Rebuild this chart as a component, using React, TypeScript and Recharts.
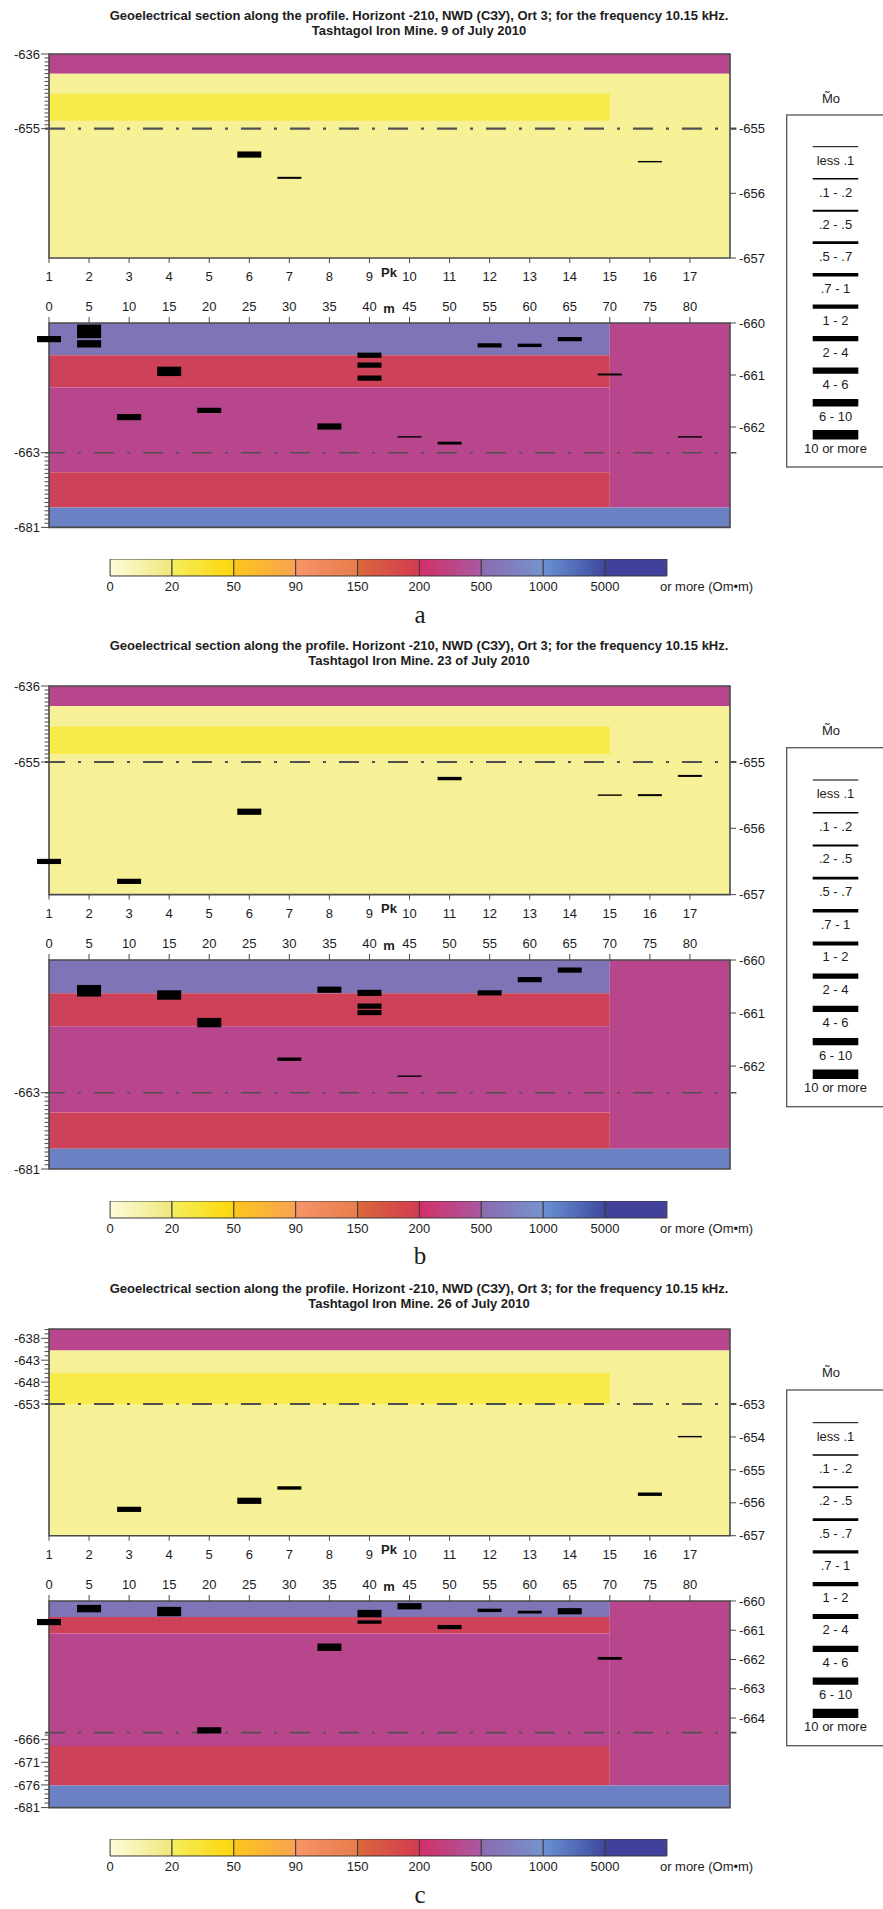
import React from "react";
import {
  ComposedChart,
  BarChart,
  Bar,
  XAxis,
  YAxis,
  ReferenceArea,
  ReferenceLine,
  Scatter,
} from "recharts";

const FONT = '"Liberation Sans", Arial, Helvetica, sans-serif';
const INK = "#1c1c1c";
const FRAME = "#4a4a4a";

const PLOT_LEFT = 49;
const PLOT_W = 681;
const RIGHT_AX = 60;
const X_AX_H = 34;
const PAD = 10;
const MARK_W = 24;
const X_MAX = 85;

// distance along the profile (m) and picket numbers under it
const metres = [0, 5, 10, 15, 20, 25, 30, 35, 40, 45, 50, 55, 60, 65, 70, 75, 80];
const pickets = [1, 2, 3, 4, 5, 6, 7, 8, 9, 10, 11, 12, 13, 14, 15, 16, 17];

// thickness classes of the anomalies (legend)
const thicknessClasses = ["less .1", ".1 - .2", ".2 - .5", ".5 - .7", ".7 - 1", "1 - 2", "2 - 4", "4 - 6", "6 - 10", "10 or more"];
const classStroke = [1, 1.4, 2, 2.8, 3.4, 4.2, 5.2, 6.2, 7.4, 9.4];

// resistivity colour scale
const scaleTicks = ["0", "20", "50", "90", "150", "200", "500", "1000", "5000", "or more (Om\u2022m)"];
const scaleColours: [string, string][] = [
  ["#fefbdc", "#eee87a"],
  ["#f5ee5c", "#fcd60a"],
  ["#fdc61c", "#f7a352"],
  ["#f69469", "#e87d4c"],
  ["#d9683a", "#d43a52"],
  ["#d22f66", "#a95aa2"],
  ["#8c6bb0", "#7593cd"],
  ["#6a93d3", "#3f48a0"],
  ["#41409b", "#41409b"],
];

const BAND_FILL: Record<string, string> = {
  pale: "#f6f197",
  yellow: "#f8ea4b",
  magenta: "#b8468c",
  red: "#cd4159",
  violet: "#7d75b6",
  blue: "#6a82c3",
};

const TITLE = "Geoelectrical section along the profile. Horizont -210, NWD (\u0421\u0417\u0423), Ort 3; for the frequency 10.15 kHz.";
const dates = ["9 of July 2010", "23 of July 2010", "26 of July 2010"];

// layers: [x1, x2, top, bottom, layer] in left-axis depth units
type Band = [number, number, number, number, string];
const upperBandsAB: Band[] = [
  [0, 85, -630, -641, "magenta"],
  [0, 85, -641, -700, "pale"],
  [0, 70, -646.1, -653, "yellow"],
];
const upperBandsC: Band[] = [
  [0, 85, -630, -640.8, "magenta"],
  [0, 85, -640.8, -700, "pale"],
  [0, 70, -646, -653, "yellow"],
];
const lowerBandsAB: Band[] = [
  [0, 70, -620, -639.55, "violet"],
  [0, 70, -639.55, -647.3, "red"],
  [0, 70, -647.3, -667.7, "magenta"],
  [0, 70, -667.7, -676.2, "red"],
  [70, 85, -620, -676.2, "magenta"],
  [0, 85, -676.2, -700, "blue"],
];
const lowerBandsC: Band[] = [
  [0, 70, -620, -638.95, "violet"],
  [0, 70, -638.95, -642.6, "red"],
  [0, 70, -642.6, -667.4, "magenta"],
  [0, 70, -667.4, -676.1, "red"],
  [70, 85, -620, -676.1, "magenta"],
  [0, 85, -676.1, -700, "blue"],
];

// anomalies: [metre, depth (right axis), thickness class]
type Mark = [number, number, number];
const aUpperMarks: Mark[] = [
  [25, -655.4, 7], [30, -655.76, 2], [75, -655.51, 1],
];
const aLowerMarks: Mark[] = [
  [0, -660.31, 7], [5, -660.12, 9], [5, -660.22, 8], [5, -660.4, 8],
  [10, -661.81, 7], [15, -660.93, 9], [20, -661.68, 6], [35, -661.99, 7],
  [40, -660.62, 6], [40, -660.81, 6], [40, -661.06, 6], [45, -662.19, 1],
  [50, -662.31, 3], [55, -660.43, 5], [60, -660.43, 4], [65, -660.31, 5],
  [70, -660.99, 2], [80, -662.19, 1],
];
const bUpperMarks: Mark[] = [
  [0, -656.5, 6], [10, -656.8, 6], [25, -655.75, 7], [50, -655.25, 4],
  [70, -655.5, 1], [75, -655.5, 2], [80, -655.21, 2],
];
const bLowerMarks: Mark[] = [
  [5, -660.54, 8], [5, -660.62, 8], [15, -660.66, 9], [20, -661.18, 9],
  [30, -661.87, 4], [35, -660.56, 7], [40, -660.62, 7], [40, -660.87, 6],
  [40, -660.99, 6], [45, -662.19, 1], [55, -660.62, 6], [60, -660.37, 6],
  [65, -660.19, 6],
];
const cUpperMarks: Mark[] = [
  [10, -656.2, 6], [25, -655.94, 7], [30, -655.55, 4], [75, -655.74, 4], [80, -653.99, 1],
];
const cLowerMarks: Mark[] = [
  [0, -660.72, 7], [5, -660.26, 8], [15, -660.36, 9], [20, -664.42, 7],
  [35, -661.58, 8], [40, -660.43, 8], [40, -660.72, 4], [45, -660.18, 7],
  [50, -660.89, 5], [55, -660.32, 4], [60, -660.38, 3], [65, -660.35, 7],
  [70, -661.96, 3],
];

const range = (from: number, to: number) => {
  const out: number[] = [];
  for (let v = from; v >= to; v--) out.push(v);
  return out;
};

const toPoints = (marks: Mark[]) => marks.map(([m, d, c]) => ({ m, d, c }));

const panels = [
  {
    key: "a",
    date: dates[0],
    titleY: [15, 30],
    letterY: 623,
    barTop: 559.3,
    legend: { head: 98, box: 115, first: 146.7, step: 32, bottom: 467 },
    upper: {
      top: 54.3, h: 204, dash: -655, bands: upperBandsAB, marks: aUpperMarks,
      L: { domain: [-687.9, -636], major: [-636, -655], minor: range(-636, -655) },
      R: { domain: [-657, -653.845], ticks: [-655, -656, -657] },
    },
    lower: {
      top: 323.3, h: 204.4, dash: -663, bands: lowerBandsAB, marks: aLowerMarks,
      L: { domain: [-681, -631.75], major: [-663, -681], minor: range(-663, -681) },
      R: { domain: [-663.93, -660], ticks: [-660, -661, -662] },
    },
  },
  {
    key: "b",
    date: dates[1],
    titleY: [645.7, 660.7],
    letterY: 1264.3,
    barTop: 1200.6,
    legend: { head: 730, box: 747.7, first: 780, step: 32.7, bottom: 1106.7 },
    upper: {
      top: 685.7, h: 208.6, dash: -655, bands: upperBandsAB, marks: bUpperMarks,
      L: { domain: [-688.15, -636], major: [-636, -655], minor: range(-636, -655) },
      R: { domain: [-657, -653.854], ticks: [-655, -656, -657] },
    },
    lower: {
      top: 960, h: 209, dash: -663, bands: lowerBandsAB, marks: bLowerMarks,
      L: { domain: [-681, -631.7], major: [-663, -681], minor: range(-663, -681) },
      R: { domain: [-663.94, -660], ticks: [-660, -661, -662] },
    },
  },
  {
    key: "c",
    date: dates[2],
    titleY: [1288.3, 1303.3],
    letterY: 1902.6,
    barTop: 1839.3,
    legend: { head: 1372.7, box: 1390, first: 1422.7, step: 32.3, bottom: 1745.7 },
    upper: {
      top: 1329, h: 206.7, dash: -653, bands: upperBandsC, marks: cUpperMarks,
      L: { domain: [-683.07, -635.88], major: [-638, -643, -648, -653], minor: range(-636, -653) },
      R: { domain: [-657, -650.72], ticks: [-653, -654, -655, -656, -657] },
    },
    lower: {
      top: 1600.7, h: 206.6, dash: -664.46, bands: lowerBandsC, marks: cLowerMarks,
      L: { domain: [-681, -635.42], major: [-666, -671, -676, -681], minor: range(-665, -681) },
      R: { domain: [-667.06, -660], ticks: [-660, -661, -662, -663, -664] },
    },
  },
];

const txt = { fontFamily: FONT, fontSize: 13, fill: INK };

const LeftTick = (props: any) => {
  const { x, y, payload, major } = props;
  const isMajor = major.includes(payload.value);
  return (
    <g>
      <line x1={x - (isMajor ? 8 : 4.5)} x2={x} y1={y} y2={y} stroke={FRAME} strokeWidth={1} />
      {isMajor && (
        <text x={x - 9} y={y} dy="0.36em" textAnchor="end" {...txt}>
          {payload.value}
        </text>
      )}
    </g>
  );
};

const RightTick = (props: any) => {
  const { x, y, payload } = props;
  return (
    <g>
      <line x1={x} x2={x + 6} y1={y} y2={y} stroke={FRAME} strokeWidth={1} />
      <text x={x + 9} y={y} dy="0.36em" textAnchor="start" {...txt}>
        {payload.value}
      </text>
    </g>
  );
};

const PkTick = (props: any) => {
  const { x, y, payload } = props;
  const i = metres.indexOf(payload.value);
  return (
    <g>
      <line x1={x} x2={x} y1={y} y2={y + 5} stroke={FRAME} strokeWidth={1} />
      <text x={x} y={y + 18.4} dy="0.36em" textAnchor="middle" {...txt}>
        {pickets[i]}
      </text>
      {payload.value === 40 && (
        <text x={x + 19.5} y={y + 14} dy="0.36em" textAnchor="middle" {...txt} fontWeight="bold">
          Pk
        </text>
      )}
    </g>
  );
};

const MTick = (props: any) => {
  const { x, y, payload } = props;
  return (
    <g>
      <line x1={x} x2={x} y1={y - 6} y2={y} stroke={FRAME} strokeWidth={1} />
      <text x={x} y={y - 16.6} dy="0.36em" textAnchor="middle" {...txt}>
        {payload.value}
      </text>
      {payload.value === 40 && (
        <text x={x + 19.5} y={y - 14.3} dy="0.36em" textAnchor="middle" {...txt} fontWeight="bold">
          m
        </text>
      )}
    </g>
  );
};

const MarkShape = (props: any) => {
  const t = classStroke[props.payload.c];
  return <rect x={props.cx - MARK_W / 2} y={props.cy - t / 2} width={MARK_W} height={t} fill="#000" />;
};

const Section = ({ cfg, upper }: { cfg: any; upper: boolean }) => {
  const [lo, hi] = cfg.L.domain;
  return (
    <div style={{ position: "absolute", left: 0, top: cfg.top - (upper ? PAD : X_AX_H) }}>
      <ComposedChart
        width={PLOT_LEFT + PLOT_W + RIGHT_AX}
        height={cfg.h + X_AX_H + PAD}
        margin={{ top: upper ? PAD : 0, bottom: upper ? 0 : PAD, left: 0, right: 0 }}
      >
        <XAxis
          type="number"
          dataKey="m"
          domain={[0, X_MAX]}
          ticks={metres}
          interval={0}
          orientation={upper ? "bottom" : "top"}
          height={X_AX_H}
          tickSize={0}
          tickMargin={0}
          axisLine={false}
          tickLine={false}
          tick={upper ? PkTick : MTick}
        />
        <YAxis
          yAxisId="L"
          orientation="left"
          type="number"
          width={PLOT_LEFT}
          domain={cfg.L.domain}
          allowDataOverflow
          ticks={cfg.L.minor}
          interval={0}
          tickSize={0}
          tickMargin={0}
          axisLine={false}
          tickLine={false}
          tick={(p: any) => <LeftTick {...p} major={cfg.L.major} />}
        />
        <YAxis
          yAxisId="R"
          orientation="right"
          type="number"
          dataKey="d"
          width={RIGHT_AX}
          domain={cfg.R.domain}
          ticks={cfg.R.ticks}
          interval={0}
          tickSize={0}
          tickMargin={0}
          axisLine={false}
          tickLine={false}
          tick={RightTick}
        />
        {cfg.bands.map(([x1, x2, t, b, layer]: Band, i: number) => (
          <ReferenceArea
            key={i}
            yAxisId="L"
            x1={x1}
            x2={x2}
            y1={b}
            y2={t}
            fill={BAND_FILL[layer]}
            fillOpacity={1}
            stroke="none"
            ifOverflow="hidden"
          />
        ))}
        <ReferenceArea
          yAxisId="L"
          x1={0}
          x2={X_MAX}
          y1={lo}
          y2={hi}
          fill="none"
          stroke={FRAME}
          strokeWidth={1.6}
          ifOverflow="visible"
        />
        <ReferenceLine
          yAxisId="L"
          segment={[
            { x: -0.5, y: cfg.dash },
            { x: X_MAX + 0.8, y: cfg.dash },
          ]}
          stroke="#505050"
          strokeWidth={upper ? 2.2 : 1.6}
          strokeDasharray="20 13 3 13"
          ifOverflow="visible"
        />
        <Scatter
          yAxisId="R"
          data={toPoints(cfg.marks)}
          isAnimationActive={false}
          shape={MarkShape}
        />
      </ComposedChart>
    </div>
  );
};

const BAR_LEFT = 110;
const BAR_W = 557;
const BAR_H = 16.7;
const BAR_PAD = 12;

const ScaleTick = (props: any) => {
  const { x, y, payload } = props;
  const last = payload.value === scaleTicks.length - 1;
  return (
    <text x={last ? x - 7 : x} y={y + 10.4} dy="0.36em" textAnchor={last ? "start" : "middle"} {...txt}>
      {scaleTicks[payload.value]}
    </text>
  );
};

const ColourScale = ({ top, id }: { top: number; id: string }) => {
  const row = [Object.fromEntries(scaleColours.map((_, i) => [`s${i}`, 1]))];
  return (
    <div style={{ position: "absolute", left: BAR_LEFT - BAR_PAD, top }}>
      <BarChart
        layout="vertical"
        width={BAR_W + 120 + BAR_PAD}
        height={BAR_H + 24}
        data={row}
        margin={{ top: 0, right: 120, bottom: 0, left: BAR_PAD }}
        barCategoryGap={0}
      >
        <defs>
          {scaleColours.map(([from, to], i) => (
            <linearGradient key={i} id={`${id}${i}`} x1="0" y1="0" x2="1" y2="0">
              <stop offset="0%" stopColor={from} />
              <stop offset="100%" stopColor={to} />
            </linearGradient>
          ))}
        </defs>
        <XAxis
          type="number"
          domain={[0, scaleColours.length]}
          ticks={scaleTicks.map((_, i) => i)}
          interval={0}
          height={24}
          tickSize={0}
          tickMargin={0}
          axisLine={false}
          tickLine={false}
          tick={ScaleTick}
        />
        <YAxis type="category" hide width={0} />
        {scaleColours.map((_, i) => (
          <Bar
            key={i}
            dataKey={`s${i}`}
            stackId="s"
            fill={`url(#${id}${i})`}
            stroke="#3a3a3a"
            strokeWidth={1}
            isAnimationActive={false}
          />
        ))}
      </BarChart>
    </div>
  );
};

const LEG_LEFT = 786.7;
const LEG_LINE_X = [812.7, 858.3];
const TITLE_X = 419;
const LETTER_X = 420;

export default function App() {
  return (
    <div
      style={{
        position: "absolute",
        left: 0,
        top: 0,
        width: 883,
        height: 1909,
        overflow: "hidden",
        background: "#fff",
      }}
    >
      <svg width={883} height={1909} style={{ position: "absolute", left: 0, top: 0 }}>
        {panels.map((p) => (
          <g key={p.key}>
            <text x={TITLE_X} y={p.titleY[0]} dy="0.36em" textAnchor="middle" fontFamily={FONT} fontSize={13} fontWeight="bold" fill={INK}>
              {TITLE}
            </text>
            <text x={TITLE_X} y={p.titleY[1]} dy="0.36em" textAnchor="middle" fontFamily={FONT} fontSize={13} fontWeight="bold" fill={INK}>
              {`Tashtagol Iron Mine. ${p.date}`}
            </text>
            <text x={LETTER_X} y={p.letterY} textAnchor="middle" fontFamily='"Liberation Serif", "DejaVu Serif", serif' fontSize={25} fill={INK}>
              {p.key}
            </text>
            <text x={831} y={p.legend.head} dy="0.36em" textAnchor="middle" {...txt}>
              M&#771;o
            </text>
            <rect
              x={LEG_LEFT}
              y={p.legend.box}
              width={140}
              height={p.legend.bottom - p.legend.box}
              fill="none"
              stroke="#555"
              strokeWidth={1.3}
            />
            {thicknessClasses.map((label, i) => {
              const y = p.legend.first + i * p.legend.step;
              return (
                <g key={label}>
                  <line x1={LEG_LINE_X[0]} x2={LEG_LINE_X[1]} y1={y} y2={y} stroke="#000" strokeWidth={classStroke[i]} />
                  <text x={835.5} y={y + 13.3} dy="0.36em" textAnchor="middle" {...txt}>
                    {label}
                  </text>
                </g>
              );
            })}
          </g>
        ))}
      </svg>
      {panels.map((p) => (
        <React.Fragment key={p.key}>
          <Section cfg={p.upper} upper />
          <Section cfg={p.lower} upper={false} />
          <ColourScale top={p.barTop} id={`cb${p.key}`} />
        </React.Fragment>
      ))}
    </div>
  );
}
